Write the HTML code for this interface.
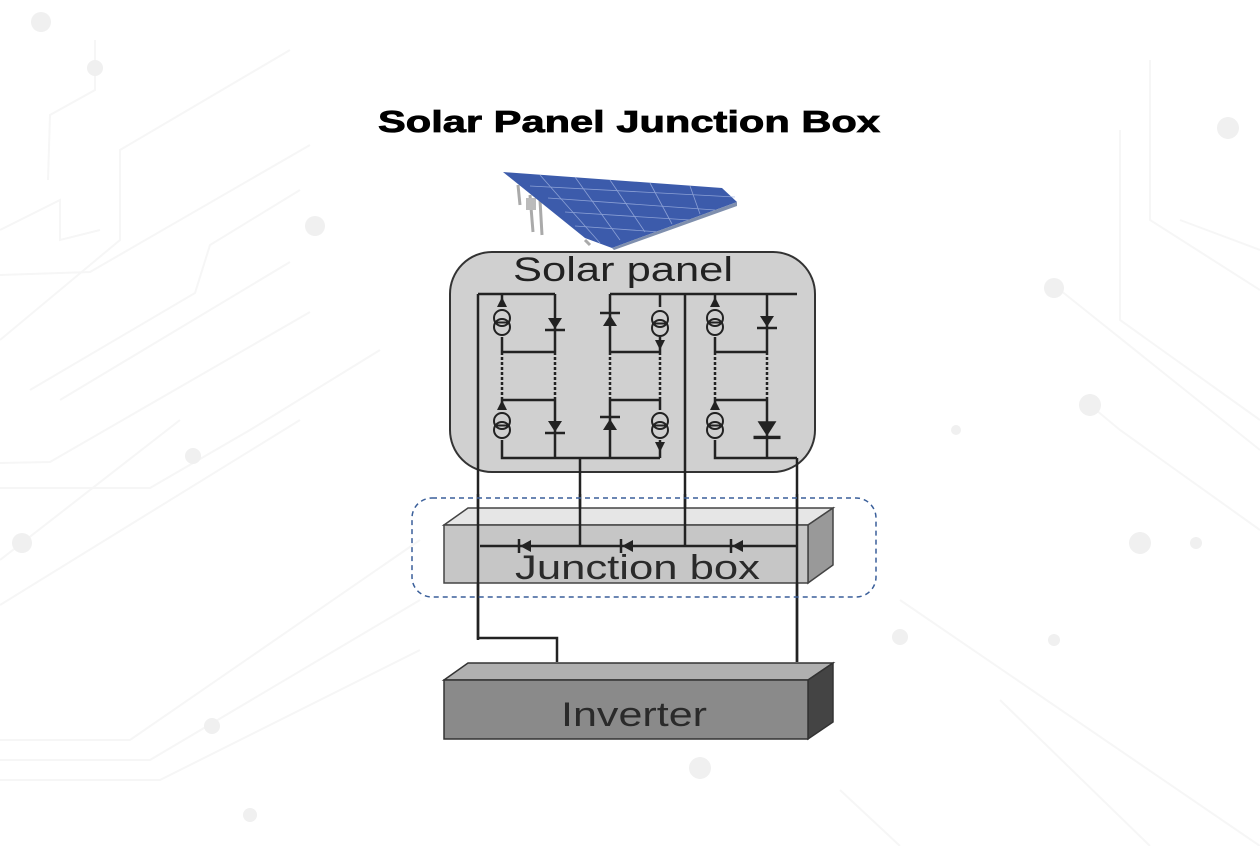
<!DOCTYPE html>
<html><head><meta charset="utf-8"><style>
html,body{margin:0;padding:0;background:#fff;}
svg{display:block;}
</style></head><body>
<svg width="1260" height="846" viewBox="0 0 1260 846" xmlns="http://www.w3.org/2000/svg">
<defs>
<g id="cs">
<path d="M0,-25 L-5,-15 L5,-15 Z" fill="#222"/>
<circle cx="0" cy="-4" r="8" fill="none" stroke="#222" stroke-width="2"/>
<circle cx="0" cy="5" r="8" fill="none" stroke="#222" stroke-width="2"/>
<line x1="-8" y1="0.5" x2="8" y2="0.5" stroke="#222" stroke-width="2"/>
</g>
<g id="csd">
<path d="M0,27 L-5,17 L5,17 Z" fill="#222"/>
<circle cx="0" cy="-4" r="8" fill="none" stroke="#222" stroke-width="2"/>
<circle cx="0" cy="5" r="8" fill="none" stroke="#222" stroke-width="2"/>
<line x1="-8" y1="0.5" x2="8" y2="0.5" stroke="#222" stroke-width="2"/>
</g>
<g id="dd"><path d="M-7,-5 L7,-5 L0,6 Z" fill="#222"/><line x1="-10" y1="7" x2="10" y2="7" stroke="#222" stroke-width="2.5"/></g>
<g id="du"><path d="M-7,6 L7,6 L0,-5 Z" fill="#222"/><line x1="-10" y1="-7" x2="10" y2="-7" stroke="#222" stroke-width="2.5"/></g>
<g id="dl"><path d="M6,-6 L6,6 L-5,0 Z" fill="#222"/><line x1="-6" y1="-7" x2="-6" y2="7" stroke="#222" stroke-width="2.5"/></g>
</defs>
<g stroke="#f6f6f6" stroke-width="2" fill="none">
<path d="M95,40 L95,90 L50,115 L48,180 M0,230 L60,200 L60,240 L100,230"/>
<path d="M0,275 L90,272 L310,145"/>
<path d="M0,340 L120,240 L120,150 L290,50"/>
<path d="M30,390 L195,293 L210,245 L300,190"/>
<path d="M60,400 L290,262"/>
<path d="M0,463 L50,462 L310,312"/>
<path d="M0,488 L150,488 L250,430 L380,350"/>
<path d="M0,560 L180,420"/>
<path d="M0,605 L300,420"/>
<path d="M0,740 L130,740 L420,540"/>
<path d="M0,760 L150,760 L420,600"/>
<path d="M0,780 L160,780 L420,650"/>
<path d="M1150,60 L1150,220 L1260,290 M1120,130 L1120,320 L1260,420"/>
<path d="M1060,290 L1260,450 M900,600 L1260,846 M1000,700 L1150,846 M1090,405 L1120,430 L1260,530"/>
<path d="M840,790 L900,846 M1180,220 L1260,250"/>
</g>
<g fill="#f0f0f0">
<circle cx="41" cy="22" r="10"/><circle cx="95" cy="68" r="8"/><circle cx="315" cy="226" r="10"/>
<circle cx="22" cy="543" r="10"/><circle cx="193" cy="456" r="8"/><circle cx="1228" cy="128" r="11"/>
<circle cx="1054" cy="288" r="10"/><circle cx="1090" cy="405" r="11"/><circle cx="1140" cy="543" r="11"/>
<circle cx="1196" cy="543" r="6"/><circle cx="700" cy="768" r="11"/><circle cx="900" cy="637" r="8"/>
<circle cx="212" cy="726" r="8"/><circle cx="250" cy="815" r="7"/><circle cx="1054" cy="640" r="6"/>
<circle cx="956" cy="430" r="5"/>
</g>
<text x="378" y="132" textLength="502" lengthAdjust="spacingAndGlyphs" font-family="Liberation Sans, sans-serif" font-weight="bold" font-size="31" fill="#000" stroke="#000" stroke-width="0.8">Solar Panel Junction Box</text>
<g>
<path d="M518,185 L520,205 M530,195 L533,232 M540,200 L542,235 M585,240 L590,245" stroke="#aaa" stroke-width="3"/>
<rect x="526" y="198" width="10" height="12" fill="#bbb"/>
<polygon points="503,172 722,188 737,202 612,248 585,238" fill="#3c5bab"/>
<g stroke="#9fb2e0" stroke-width="0.8" opacity="0.8">
<line x1="530" y1="186" x2="735" y2="197"/><line x1="548" y1="198" x2="715" y2="210"/><line x1="565" y1="212" x2="690" y2="220"/><line x1="575" y1="226" x2="660" y2="232"/>
<line x1="540" y1="175" x2="600" y2="243"/><line x1="575" y1="177" x2="620" y2="240"/><line x1="610" y1="180" x2="645" y2="232"/><line x1="650" y1="183" x2="672" y2="224"/><line x1="690" y1="186" x2="700" y2="214"/>
</g>
<polygon points="612,248 737,202 737,206 614,250" fill="#7f8fae"/>
</g>
<rect x="450" y="252" width="365" height="220" rx="42" fill="#d0d0d0" stroke="#333" stroke-width="2"/>
<text x="513" y="281" textLength="220" lengthAdjust="spacingAndGlyphs" font-family="Liberation Sans, sans-serif" font-size="34" fill="#222">Solar panel</text>
<g stroke="#222" stroke-width="2.5" fill="none">
<path d="M478,294 L555,294"/>
<path d="M478,294 L478,638 L557,638 L557,662"/>
<path d="M502,294 L502,352 M502,400 L502,458 L660,458 M555,294 L555,352 M555,400 L555,458"/>
<path d="M502,352 L555,352 M502,400 L555,400"/>
<path d="M580,458 L580,546"/>
<path d="M610,294 L797,294 M610,294 L610,352 M610,400 L610,458 M660,294 L660,352 M660,400 L660,458"/>
<path d="M610,352 L660,352 M610,400 L660,400"/>
<path d="M685,294 L685,546"/>
<path d="M715,294 L715,352 M715,400 L715,458 L797,458 M767,294 L767,352 M767,400 L767,458"/>
<path d="M715,352 L767,352 M715,400 L767,400"/>
<path d="M797,458 L797,662"/>
</g>
<g stroke="#222" stroke-width="2.5" stroke-dasharray="3,2">
<path d="M502,352 L502,400 M555,352 L555,400 M610,352 L610,400 M660,352 L660,400 M715,352 L715,400 M767,352 L767,400"/>
</g>
<g>
<rect x="493" y="307" width="18" height="30" fill="#d0d0d0"/><use href="#cs" x="502" y="322"/>
<rect x="493" y="410" width="18" height="30" fill="#d0d0d0"/><use href="#cs" x="502" y="425"/>
<rect x="706" y="307" width="18" height="30" fill="#d0d0d0"/><use href="#cs" x="715" y="322"/>
<rect x="706" y="410" width="18" height="30" fill="#d0d0d0"/><use href="#cs" x="715" y="425"/>
<rect x="651" y="307" width="18" height="30" fill="#d0d0d0"/><use href="#csd" x="660" y="323"/>
<rect x="651" y="410" width="18" height="30" fill="#d0d0d0"/><use href="#csd" x="660" y="425"/>
<use href="#dd" x="555" y="323"/><use href="#dd" x="555" y="426"/>
<use href="#du" x="610" y="320"/><use href="#du" x="610" y="424"/>
<use href="#dd" x="767" y="321"/>
<g transform="translate(767,428) scale(1.35)"><use href="#dd"/></g>
</g>
<polygon points="444,525 468,508 833,508 808,525" fill="#e6e6e6" stroke="#444" stroke-width="1.5"/>
<polygon points="808,525 833,508 833,565 808,583" fill="#999" stroke="#444" stroke-width="1.5"/>
<rect x="444" y="525" width="364" height="58" fill="#c6c6c6" stroke="#444" stroke-width="1.5"/>
<text x="515" y="579" textLength="245" lengthAdjust="spacingAndGlyphs" font-family="Liberation Sans, sans-serif" font-size="34" fill="#2a2a2a">Junction box</text>
<g stroke="#222" stroke-width="2.5" fill="none">
<path d="M478,494 L478,640 M580,494 L580,546 M685,494 L685,546 M797,494 L797,662 M480,546 L797,546"/>
</g>
<use href="#dl" x="525" y="546"/><use href="#dl" x="627" y="546"/><use href="#dl" x="737" y="546"/>
<rect x="412" y="498" width="464" height="99" rx="20" fill="none" stroke="#3a5f9a" stroke-width="1.5" stroke-dasharray="5,4"/>
<polygon points="444,680 468,663 833,663 808,680" fill="#b0b0b0" stroke="#333" stroke-width="1.5"/>
<polygon points="808,680 833,663 833,722 808,739" fill="#444" stroke="#333" stroke-width="1.5"/>
<rect x="444" y="680" width="364" height="59" fill="#8a8a8a" stroke="#333" stroke-width="1.5"/>
<text x="561" y="726" textLength="146" lengthAdjust="spacingAndGlyphs" font-family="Liberation Sans, sans-serif" font-size="34" fill="#2a2a2a">Inverter</text>
</svg>
</body></html>
